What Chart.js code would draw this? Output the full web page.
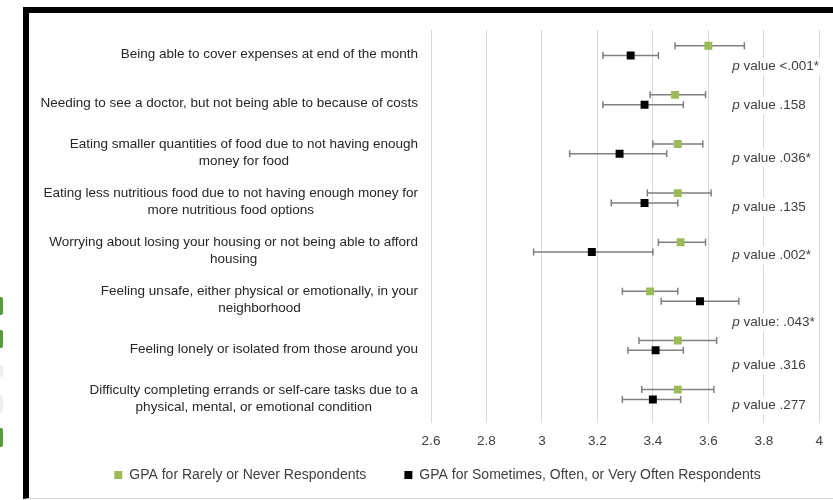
<!DOCTYPE html>
<html>
<head>
<meta charset="utf-8">
<script src="https://cdn.jsdelivr.net/npm/chart.js@4.4.0/dist/chart.umd.min.js"></script>
<style>
    html, body { margin: 0; padding: 0; background: #fff; }
    #wrap { position: relative; width: 833px; height: 500px; overflow: hidden; }
    #frame {
        position: absolute; left: 23px; top: 7px; width: 830px; height: 485px;
        border-top: 6px solid #000; border-left: 6px solid #000; border-bottom: 1px solid #d9d9d9;
    }
    .tab { position: absolute; left: 0; width: 3px; border-radius: 0 2px 2px 0; }
    #chart { position: absolute; left: 0; top: 0; }
</style>
</head>
<body>
<div id="wrap">
    <div id="frame"></div>
    <div class="tab" style="top:297px;height:18px;background:#5b9a3c"></div>
    <div class="tab" style="top:330px;height:18px;background:#5b9a3c"></div>
    <div class="tab" style="top:365px;height:12px;background:#eee"></div>
    <div class="tab" style="top:395px;height:18px;background:#eee"></div>
    <div class="tab" style="top:428px;height:19px;background:#5b9a3c"></div>
    <canvas id="chart" width="833" height="500"></canvas>
</div>
<script>
const categories = [
    ['Being able to cover expenses at end of the month'],
    ['Needing to see a doctor, but not being able to because of costs'],
    ['Eating smaller quantities of food due to not having enough', 'money for food'],
    ['Eating less nutritious food due to not having enough money for', 'more nutritious food options'],
    ['Worrying about losing your housing or not being able to afford', 'housing'],
    ['Feeling unsafe, either physical or emotionally, in your', 'neighborhood'],
    ['Feeling lonely or isolated from those around you'],
    ['Difficulty completing errands or self-care tasks due to a', 'physical, mental, or emotional condition']
];

// GPA for Rarely or Never
const rarelyMean = [3.60, 3.48, 3.49, 3.49, 3.50, 3.39, 3.49, 3.49];
const rarelyLow  = [3.48, 3.39, 3.40, 3.38, 3.42, 3.29, 3.35, 3.36];
const rarelyHigh = [3.73, 3.59, 3.58, 3.61, 3.59, 3.49, 3.63, 3.62];

// GPA for Sometimes, Often, or Very Often
const oftenMean = [3.32, 3.37, 3.28, 3.37, 3.18, 3.57, 3.41, 3.40];
const oftenLow  = [3.22, 3.22, 3.10, 3.25, 2.97, 3.43, 3.31, 3.29];
const oftenHigh = [3.42, 3.51, 3.45, 3.49, 3.40, 3.71, 3.51, 3.50];

const pLabels = ['value <.001*', 'value .158', 'value .036*', 'value .135',
                 'value .002*', 'value: .043*', 'value .316', 'value .277'];

const xTicks = [2.6, 2.8, 3, 3.2, 3.4, 3.6, 3.8, 4];

const FONT = '"Liberation Sans", Arial, sans-serif';

function points(mean, low, high, shift) {
    return mean.map((m, i) => ({ x: m, y: i + shift, low: low[i], high: high[i] }));
}

// whiskers behind the markers
const errorBars = {
    id: 'errorBars',
    beforeDatasetsDraw(chart) {
        const ctx = chart.ctx;
        const xs = chart.scales.x;
        ctx.save();
        ctx.strokeStyle = '#7f7f7f';
        ctx.lineWidth = 1.5;
        chart.data.datasets.forEach((ds, di) => {
            const meta = chart.getDatasetMeta(di);
            ds.data.forEach((pt, i) => {
                const y = meta.data[i].y;
                const x1 = xs.getPixelForValue(pt.low);
                const x2 = xs.getPixelForValue(pt.high);
                ctx.beginPath();
                ctx.moveTo(x1, y); ctx.lineTo(x2, y);
                ctx.moveTo(x1, y - 3.5); ctx.lineTo(x1, y + 3.5);
                ctx.moveTo(x2, y - 3.5); ctx.lineTo(x2, y + 3.5);
                ctx.stroke();
            });
        });
        ctx.restore();
    }
};

// category labels: block right aligned, lines centred like Excel
const rowLabels = {
    id: 'rowLabels',
    afterDraw(chart) {
        const ctx = chart.ctx;
        const ys = chart.scales.y;
        const right = chart.chartArea.left - 13;
        ctx.save();
        ctx.font = '13.5px ' + FONT;
        ctx.fillStyle = '#262626';
        ctx.textAlign = 'center';
        ctx.textBaseline = 'middle';
        categories.forEach((lines, i) => {
            const w = Math.max(...lines.map(l => ctx.measureText(l).width));
            const cx = right - w / 2;
            const cy = ys.getPixelForValue(i);
            const lh = 17;
            lines.forEach((l, k) => {
                ctx.fillText(l, cx, cy + (k - (lines.length - 1) / 2) * lh);
            });
        });
        ctx.restore();
    }
};

// p value notes on the right, white box cuts the gridlines
const pNotes = {
    id: 'pNotes',
    afterDraw(chart) {
        const ctx = chart.ctx;
        const ys = chart.scales.y;
        const left = chart.chartArea.right - 87;
        const offsets = [12, 2, 5, 5, 4, 22, 16, 7];
        ctx.save();
        ctx.textBaseline = 'middle';
        pLabels.forEach((txt, i) => {
            const y = ys.getPixelForValue(i) + offsets[i];
            ctx.font = 'italic 13.5px ' + FONT;
            const wp = ctx.measureText('p ').width;
            ctx.font = '13.5px ' + FONT;
            const wt = ctx.measureText(txt).width;
            ctx.fillStyle = '#fff';
            ctx.fillRect(left - 2, y - 9, wp + wt + 4, 18);
            ctx.fillStyle = '#404040';
            ctx.font = 'italic 13.5px ' + FONT;
            ctx.fillText('p ', left, y);
            ctx.font = '13.5px ' + FONT;
            ctx.fillText(txt, left + wp, y);
        });
        ctx.restore();
    }
};

// legend needs wide item gaps (padding) but sits closer to the axis
const legendSpot = {
    id: 'legendSpot',
    afterLayout(chart) {
        const lg = chart.legend;
        lg.top = 430;
        lg.bottom = 500;
        lg.height = 70;
    }
};

const ctx = document.getElementById('chart').getContext('2d');
new Chart(ctx, {
    type: 'scatter',
    data: {
        datasets: [
            {
                label: 'GPA for Rarely or Never Respondents',
                data: points(rarelyMean, rarelyLow, rarelyHigh, -0.18),
                backgroundColor: '#9bbb59',
                borderColor: '#9bbb59',
                pointStyle: 'rect',
                pointRadius: 5.6,
                borderWidth: 0
            },
            {
                label: 'GPA for Sometimes, Often, or Very Often Respondents',
                data: points(oftenMean, oftenLow, oftenHigh, 0.02),
                backgroundColor: '#000000',
                borderColor: '#000000',
                pointStyle: 'rect',
                pointRadius: 5.6,
                borderWidth: 0
            }
        ]
    },
    options: {
        responsive: false,
        animation: false,
        layout: { padding: { top: 30, left: 53, right: 11, bottom: 7 } },
        plugins: {
            tooltip: { enabled: false },
            legend: {
                position: 'bottom',
                maxHeight: 40,
                labels: {
                    boxWidth: 8,
                    boxHeight: 8,
                    padding: 38,
                    color: '#404040',
                    font: { family: FONT, size: 14 }
                }
            }
        },
        scales: {
            x: {
                type: 'linear',
                min: 2.6,
                max: 4,
                afterBuildTicks: s => { s.ticks = xTicks.map(v => ({ value: v })); },
                afterFit: s => { s.height = 30; },
                grid: { color: '#d9d9d9', lineWidth: 1, drawTicks: false },
                border: { display: false },
                ticks: {
                    padding: 10,
                    color: '#404040',
                    font: { family: FONT, size: 13.5 },
                    callback: v => String(Number(v.toFixed(1)))
                }
            },
            y: {
                type: 'linear',
                min: -0.5,
                max: 7.5,
                reverse: true,
                afterFit: s => { s.width = 378; },
                grid: { display: false },
                border: { display: false },
                ticks: { display: false }
            }
        }
    },
    plugins: [errorBars, rowLabels, pNotes, legendSpot]
});
</script>
</body>
</html>
